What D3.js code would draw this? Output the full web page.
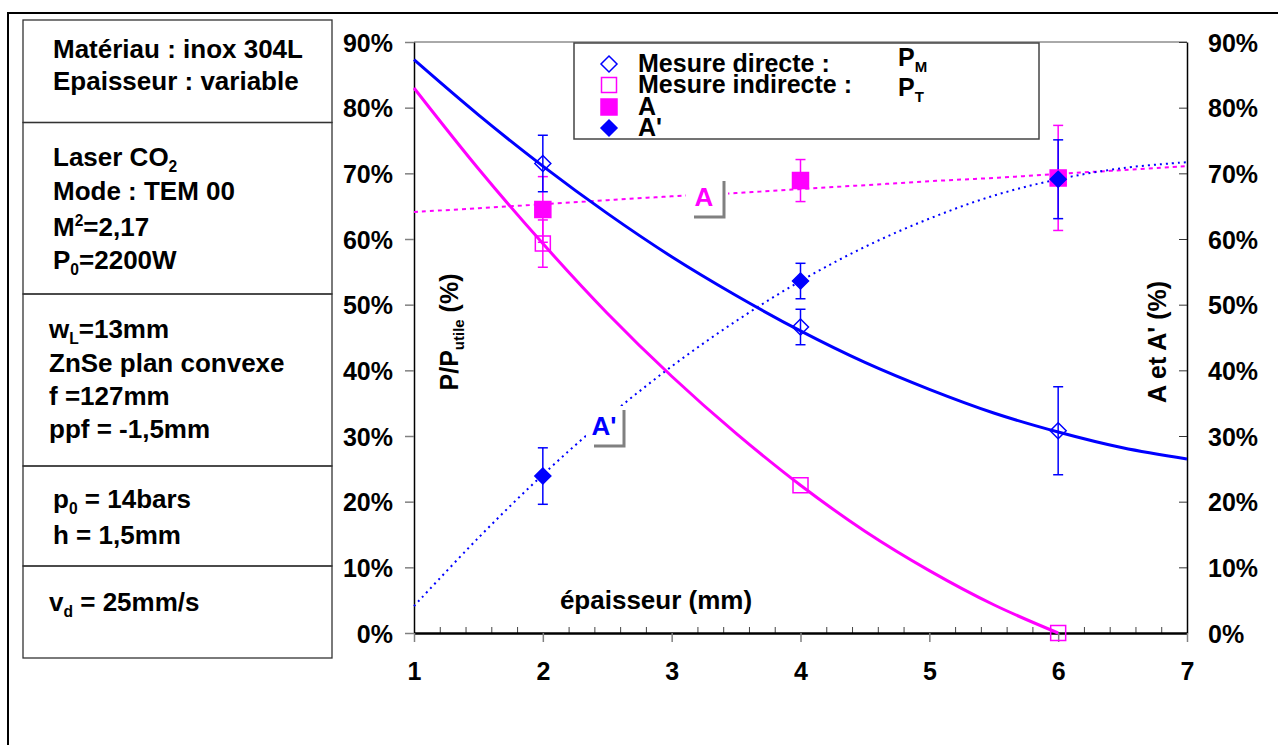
<!DOCTYPE html>
<html>
<head>
<meta charset="utf-8">
<script src="https://cdn.jsdelivr.net/npm/d3@7"></script>
<style>
  html, body { margin: 0; padding: 0; background: #fff; }
  svg { display: block; font-family: "Liberation Sans", Arial, sans-serif; font-weight: bold; }
</style>
</head>
<body>
<svg id="chart" width="1278" height="745"></svg>
<script>
// ---------- data ----------
const thickness = [2, 4, 6];                 // épaisseur (mm)
const pMeasured = [71.5, 46.6, 30.8];        // Mesure directe P_M (%)
const pMeasuredErr = [4.3, 2.7, 6.7];
const pTransmitted = [59.3, 22.5, 0.0];      // Mesure indirecte P_T (%)
const pTransmittedErr = [3.6, 0, 0];
const absorA = [64.5, 68.9, 69.3];           // A (%)
const absorAErr = [5.0, 3.2, 8.0];
const absorAPrime = [23.9, 53.6, 69.1];      // A' (%)
const absorAPrimeErr = [4.3, 2.7, 6.0];

// trend curves
const trendX = [1, 1.5, 2, 2.5, 3, 3.5, 4, 4.5, 5, 5.5, 6, 6.5, 7];
const pMeasuredTrend = [87.3, 78.9, 71.1, 63.9, 57.3, 51.4, 46.0, 41.2, 37.1, 33.5, 30.6, 28.2, 26.5];
const pTransmittedTrendX = [1, 1.5, 2, 2.5, 3, 3.5, 4, 4.5, 5, 5.5, 6];
const pTransmittedTrend = [83.0, 70.7, 59.3, 48.7, 39.1, 30.4, 22.5, 15.5, 9.5, 4.3, 0.0];
const absorATrend = [64.1, 64.7, 65.3, 65.9, 66.5, 67.0, 67.6, 68.2, 68.8, 69.3, 69.9, 70.5, 71.1];
const absorAPrimeTrend = [4.1, 14.5, 24.1, 32.8, 40.6, 47.5, 53.6, 58.8, 63.1, 66.6, 69.1, 70.8, 71.7];

const xTicks = [1, 2, 3, 4, 5, 6, 7];
const yTicks = [0, 10, 20, 30, 40, 50, 60, 70, 80, 90];

const BLUE = "#0000ff", MAG = "#ff00ff", GRAY = "#808080";

// ---------- setup ----------
const svg = d3.select("#chart");
const x = d3.scaleLinear().domain([1, 7]).range([414, 1187]);
const y = d3.scaleLinear().domain([0, 90]).range([633, 42]);

// outer frame
svg.append("rect").attr("x", 8).attr("y", 13).attr("width", 1400).attr("height", 900)
  .attr("fill", "none").attr("stroke", "#000").attr("stroke-width", 2);

// ---------- left info table ----------
const rowEdges = [20, 122.5, 294, 466, 566, 658];
const table = svg.append("g");
for (let i = 0; i < rowEdges.length - 1; i++) {
  table.append("rect").attr("x", 23).attr("y", rowEdges[i]).attr("width", 309)
    .attr("height", rowEdges[i + 1] - rowEdges[i])
    .attr("fill", "none").attr("stroke", "#333").attr("stroke-width", 1.3);
}
function richText(g, xPos, yPos, parts, size) {
  const t = g.append("text").attr("x", xPos).attr("y", yPos).attr("font-size", size);
  parts.forEach(p => {
    if (typeof p === "string") t.append("tspan").text(p);
    else if (p.sub) t.append("tspan").attr("font-size", size * 0.6).attr("dy", 6).text(p.sub);
    else if (p.sup) t.append("tspan").attr("font-size", size * 0.6).attr("dy", -10).text(p.sup);
  });
  let acc = 0;
  t.selectAll("tspan").each(function () {
    const node = d3.select(this);
    const dy = +node.attr("dy") || 0;
    if (dy === 0 && acc !== 0) { node.attr("dy", -acc); acc = 0; }
    else acc += dy;
  });
  return t;
}
const TS = 26;
richText(table, 53, 58, ["Matériau : inox 304L"], TS);
richText(table, 53, 90, ["Epaisseur : variable"], TS);
richText(table, 53, 166, ["Laser CO", {sub: "2"}], TS);
richText(table, 53, 200, ["Mode : TEM 00"], TS);
richText(table, 53, 236, ["M", {sup: "2"}, "=2,17"], TS);
richText(table, 53, 269, ["P", {sub: "0"}, "=2200W"], TS);
richText(table, 49, 338, ["w", {sub: "L"}, "=13mm"], TS);
richText(table, 49, 372, ["ZnSe plan convexe"], TS);
richText(table, 49, 405, ["f =127mm"], TS);
richText(table, 49, 438, ["ppf = -1,5mm"], TS);
richText(table, 53, 508, ["p", {sub: "0"}, " = 14bars"], TS);
richText(table, 53, 544, ["h = 1,5mm"], TS);
richText(table, 49, 611, ["v", {sub: "d"}, " = 25mm/s"], TS);

// ---------- axes ----------
svg.append("line").attr("x1", 414).attr("x2", 1187).attr("y1", y(90)).attr("y2", y(90))
  .attr("stroke", "#555").attr("stroke-width", 1);

const axL = svg.append("g").attr("transform", "translate(414,0)")
  .call(d3.axisLeft(y).tickValues(yTicks).tickFormat(d => d + "%").tickSize(9).tickSizeOuter(0).tickPadding(12));
const axR = svg.append("g").attr("transform", "translate(1187,0)")
  .call(d3.axisRight(y).tickValues(yTicks).tickFormat(d => d + "%").tickSizeInner(-8).tickSizeOuter(0).tickPadding(21));
const minor = d3.range(1, 7.001, 0.2).filter(v => Math.abs(v - Math.round(v)) > 0.01);
svg.append("g").attr("transform", "translate(0,633)")
  .call(d3.axisTop(x).tickValues(minor).tickSize(6).tickFormat(""))
  .call(g => g.select(".domain").remove())
  .selectAll("line").attr("stroke", "#444").attr("stroke-width", 1);
const axB = svg.append("g").attr("transform", "translate(0,633)")
  .call(d3.axisBottom(x).tickValues(xTicks).tickFormat(d3.format("d")).tickSize(9).tickSizeOuter(0).tickPadding(21));

[axL, axR, axB].forEach(a => {
  a.selectAll("text").attr("font-size", 25).attr("font-family", "'Liberation Sans', Arial, sans-serif")
    .attr("font-weight", "bold").attr("fill", "#000");
  a.selectAll(".tick line").attr("stroke", GRAY).attr("stroke-width", 1.5);
  a.select(".domain").attr("stroke", "#000").attr("stroke-width", 1.5);
});
axR.selectAll(".tick line").attr("stroke", "#333").attr("stroke-width", 1);
axB.select(".domain").attr("stroke-width", 2.5);
axL.selectAll("text").attr("dy", "0.36em");
axR.selectAll("text").attr("dy", "0.36em");
axB.selectAll("text").attr("dy", "0.68em");

// axis titles
svg.append("text").attr("transform", "translate(458,332) rotate(-90)").attr("text-anchor", "middle")
  .attr("font-size", 25)
  .call(t => {
    t.append("tspan").text("P/P");
    t.append("tspan").attr("font-size", 15).attr("dy", 6).text("utile");
    t.append("tspan").attr("dy", -6).text(" (%)");
  });
svg.append("text").attr("transform", "translate(1166,342) rotate(-90)").attr("text-anchor", "middle")
  .attr("font-size", 25).text("A et A' (%)");
svg.append("text").attr("x", 656).attr("y", 609).attr("text-anchor", "middle")
  .attr("font-size", 26).text("épaisseur (mm)");

// ---------- trend curves ----------
const lineGen = d3.line().x(d => x(d[0])).y(d => y(d[1])).curve(d3.curveCatmullRom);
const zip = (a, b) => a.map((v, i) => [v, b[i]]);
const plot = svg.append("g");
plot.append("path").datum(zip(trendX, absorATrend)).attr("d", lineGen)
  .attr("fill", "none").attr("stroke", MAG).attr("stroke-width", 2).attr("stroke-dasharray", "4,4");
plot.append("path").datum(zip(trendX, absorAPrimeTrend)).attr("d", lineGen)
  .attr("fill", "none").attr("stroke", BLUE).attr("stroke-width", 2).attr("stroke-dasharray", "2,4");
plot.append("path").datum(zip(trendX, pMeasuredTrend)).attr("d", lineGen)
  .attr("fill", "none").attr("stroke", BLUE).attr("stroke-width", 3);
plot.append("path").datum(zip(pTransmittedTrendX, pTransmittedTrend)).attr("d", lineGen)
  .attr("fill", "none").attr("stroke", MAG).attr("stroke-width", 3);

// ---------- curve labels ----------
function curveLabel(cx, cy, label, color) {
  const g = svg.append("g");
  g.append("rect").attr("x", cx - 20).attr("y", cy - 22).attr("width", 42).attr("height", 42).attr("fill", "#fff");
  g.append("text").attr("x", cx - 2).attr("y", cy + 7).attr("text-anchor", "middle")
    .attr("font-size", 26).attr("fill", color).text(label);
  g.append("path").attr("d", `M${cx - 12},${cy + 18}H${cx + 18}V${cy - 18}`)
    .attr("fill", "none").attr("stroke", GRAY).attr("stroke-width", 3);
}
curveLabel(706, 199, "A", MAG);
curveLabel(606, 428, "A'", BLUE);

// ---------- error bars + markers ----------
function errorBars(vals, errs, color) {
  const g = svg.append("g").attr("stroke", color).attr("stroke-width", 1.5);
  thickness.forEach((t, i) => {
    if (!errs[i]) return;
    const cx = x(t), y1 = y(vals[i] + errs[i]), y2 = y(vals[i] - errs[i]);
    g.append("line").attr("x1", cx).attr("x2", cx).attr("y1", y1).attr("y2", y2);
    g.append("line").attr("x1", cx - 5).attr("x2", cx + 5).attr("y1", y1).attr("y2", y1);
    g.append("line").attr("x1", cx - 5).attr("x2", cx + 5).attr("y1", y2).attr("y2", y2);
  });
}
errorBars(pTransmitted, pTransmittedErr, MAG);
errorBars(absorA, absorAErr, MAG);
errorBars(pMeasured, pMeasuredErr, BLUE);
errorBars(absorAPrime, absorAPrimeErr, BLUE);

const diamond = "M0,-8L8,0L0,8L-8,0Z";
const square = "M-8,-8H8V8H-8Z";
const openSquare = "M-7.5,-7.5H7.5V7.5H-7.5Z";
function markers(vals, shape, fill, stroke) {
  svg.append("g").selectAll("path").data(thickness).join("path")
    .attr("transform", (t, i) => `translate(${x(t)},${y(vals[i])})`)
    .attr("d", shape).attr("fill", fill).attr("stroke", stroke).attr("stroke-width", 1.5);
}
markers(pTransmitted, openSquare, "none", MAG);
markers(absorA, square, MAG, MAG);
markers(pMeasured, diamond, "none", BLUE);
markers(absorAPrime, diamond, BLUE, BLUE);

// ---------- legend ----------
const lg = svg.append("g");
lg.append("rect").attr("x", 574).attr("y", 43).attr("width", 465).attr("height", 96)
  .attr("fill", "#fff").attr("stroke", "#444").attr("stroke-width", 1.5);
const legendRows = [
  {shape: diamond, fill: "#fff", stroke: BLUE, text: "Mesure directe :", yc: 64},
  {shape: openSquare, fill: "#fff", stroke: MAG, text: "Mesure indirecte :", yc: 85},
  {shape: square, fill: MAG, stroke: MAG, text: "A", yc: 107},
  {shape: diamond, fill: BLUE, stroke: BLUE, text: "A'", yc: 128}
];
legendRows.forEach(r => {
  lg.append("path").attr("transform", `translate(609,${r.yc})`).attr("d", r.shape)
    .attr("fill", r.fill).attr("stroke", r.stroke).attr("stroke-width", 1.5);
  lg.append("text").attr("x", 638).attr("y", r.yc + 8).attr("font-size", 25).text(r.text);
});
richText(lg, 898, 66, ["P", {sub: "M"}], 25);
richText(lg, 898, 96, ["P", {sub: "T"}], 25);
</script>
</body>
</html>
